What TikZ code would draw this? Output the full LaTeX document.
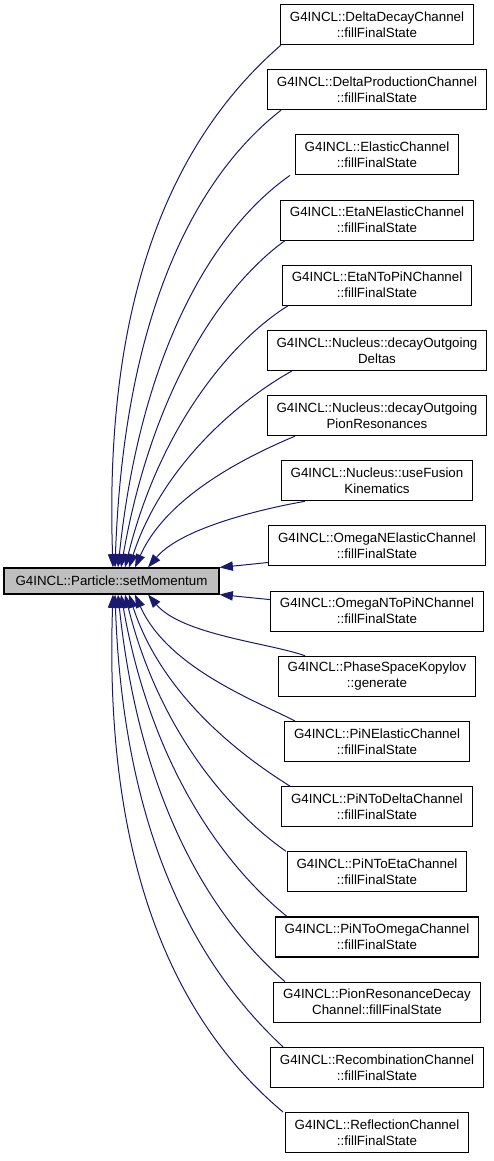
\documentclass[tikz,border=0pt]{standalone}
\usepackage{fontspec}
\setmainfont{Liberation Sans}
\usepackage{tikz}
\usetikzlibrary{arrows.meta,calc}
\definecolor{edgeblue}{RGB}{25,25,112}
\definecolor{grey75}{RGB}{191,191,191}
\tikzset{
  fn/.style={draw=black, line width=0.8pt, fill=white, align=center, inner xsep=7pt, inner ysep=1pt,
    minimum height=30pt, font=\fontsize{10}{12}\selectfont},
  mainfn/.style={fn, fill=grey75, minimum height=19.5pt, minimum width=161.25pt},
  call/.style={edgeblue, line width=0.75pt, -{Triangle[length=10pt,width=7pt]}}
}
\begin{document}
\begin{tikzpicture}[x=0.75pt,y=0.75pt]
    \useasboundingbox (0,0) rectangle (493,-1161);
    \node[mainfn] (main) at (111.5,-581) {G4INCL::Particle::setMomentum};
    % callers, one column on the right
    \foreach \i/\txt in {1/{G4INCL::DeltaDecayChannel\\::fillFinalState},
        2/{G4INCL::DeltaProductionChannel\\::fillFinalState},
        3/{G4INCL::ElasticChannel\\::fillFinalState},
        4/{G4INCL::EtaNElasticChannel\\::fillFinalState},
        5/{G4INCL::EtaNToPiNChannel\\::fillFinalState},
        6/{G4INCL::Nucleus::decayOutgoing\\Deltas},
        7/{G4INCL::Nucleus::decayOutgoing\\PionResonances},
        8/{G4INCL::Nucleus::useFusion\\Kinematics},
        9/{G4INCL::OmegaNElasticChannel\\::fillFinalState},
        10/{G4INCL::OmegaNToPiNChannel\\::fillFinalState},
        11/{G4INCL::PhaseSpaceKopylov\\::generate},
        12/{G4INCL::PiNElasticChannel\\::fillFinalState},
        13/{G4INCL::PiNToDeltaChannel\\::fillFinalState},
        14/{G4INCL::PiNToEtaChannel\\::fillFinalState},
        15/{G4INCL::PiNToOmegaChannel\\::fillFinalState},
        16/{G4INCL::PionResonanceDecay\\Channel::fillFinalState},
        17/{G4INCL::RecombinationChannel\\::fillFinalState},
        18/{G4INCL::ReflectionChannel\\::fillFinalState}}
        \node[fn] (r\i) at (377,{-24.5-65.18*(\i-1)}) {\txt};
    % upper callers come down onto the top edge
    \foreach \i/\sx/\ex/\o/\a/\l in {1/281/113/221/92/1.4, 2/281/115/218/88/1.35,
        3/290/118/215/84/1.3, 4/285/121/216/80/1.25, 5/288/125/212/76/1.2,
        6/292/129/209/72/1.1, 7/295/135/203/66/1.0, 8/305/148/190/50/0.8}
        \draw[call] (r\i.south -| \sx,0) to[out=\o, in=\a, out looseness=0.56, in looseness=\l] (main.north -| \ex,0);
    % lower callers come up onto the bottom edge
    \foreach \i/\sx/\ex/\o/\a/\l in {11/305/148/160/310/0.8, 12/295/135/153/294/1.0,
        13/290/129/148/288/1.1, 14/286/125/145/284/1.2, 15/287/121/141/280/1.25,
        16/285/118/139/276/1.3, 17/283/115/137/272/1.35, 18/283/113/140/268/1.4}
        \draw[call] (r\i.north -| \sx,0) to[out=\o, in=\a, out looseness=0.56, in looseness=\l] (main.south -| \ex,0);
    \draw[call] ($(r9.south west)+(0,4)$) -- (main.north east);
    \draw[call] ($(r10.north west)+(0,-9)$) -- (main.south east);
\end{tikzpicture}
\end{document}
